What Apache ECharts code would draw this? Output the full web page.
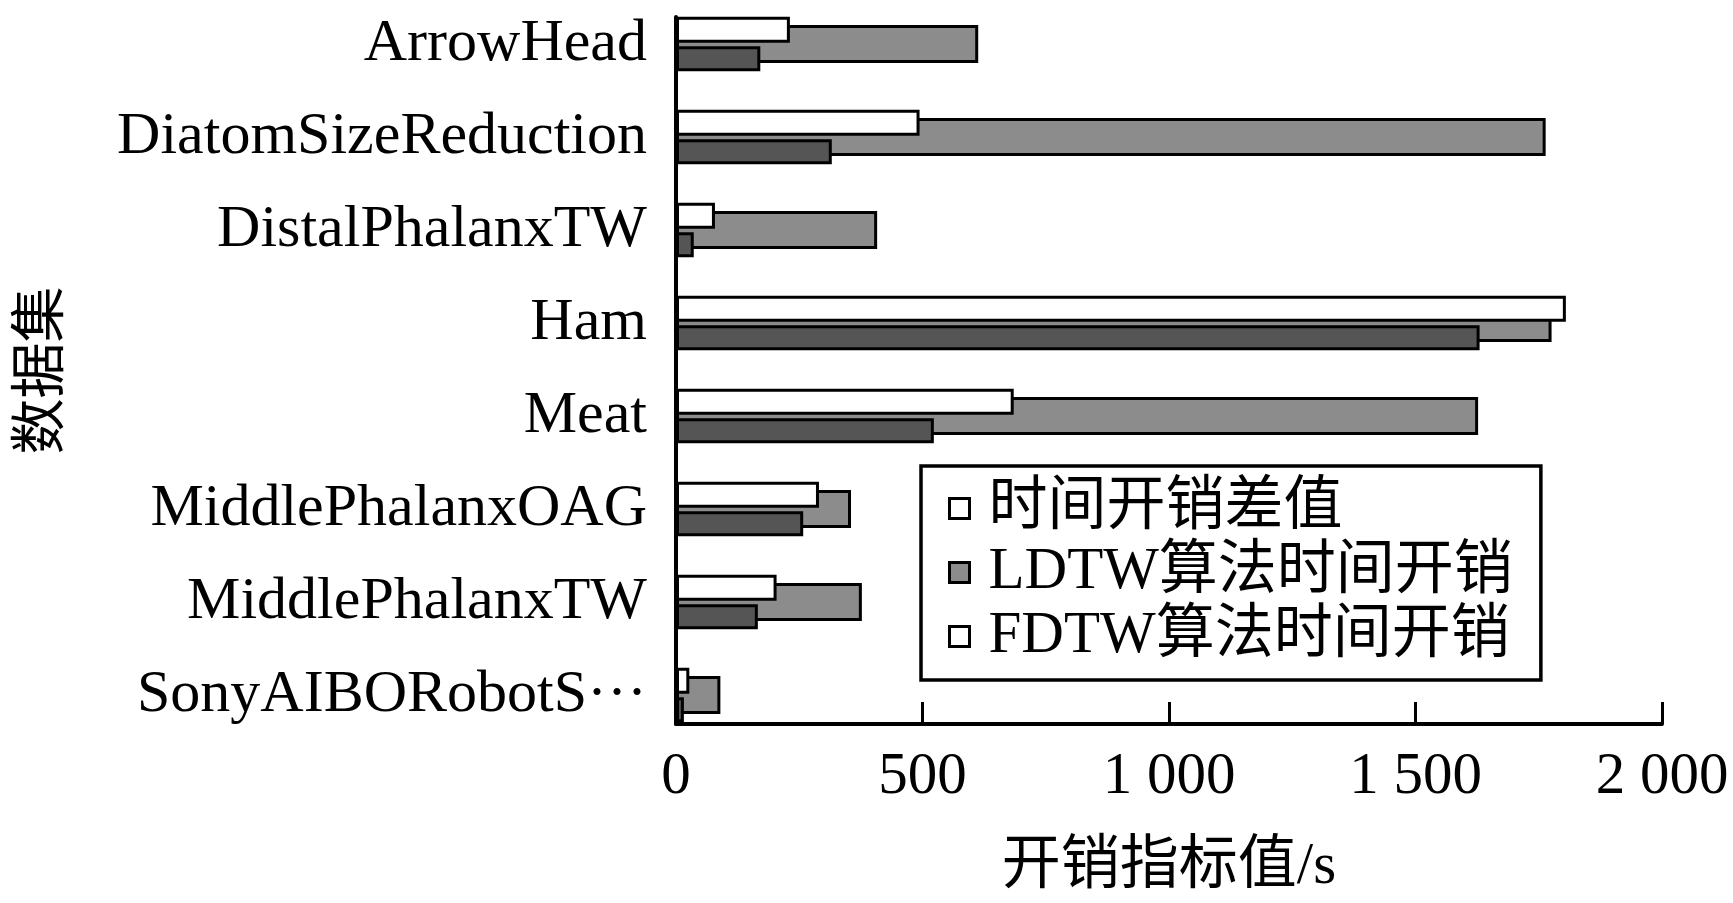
<!DOCTYPE html>
<html><head><meta charset="utf-8">
<script src="https://cdn.jsdelivr.net/npm/echarts@6/dist/echarts.min.js"></script>
<style>html,body{margin:0;padding:0;background:#fff}#c{width:1733px;height:903px}</style>
</head><body><div id="c"></div>
<script>
const categories = ['ArrowHead','DiatomSizeReduction','DistalPhalanxTW','Ham','Meat','MiddlePhalanxOAG','MiddlePhalanxTW','SonyAIBORobotS\u00B7\u00B7\u00B7'];
const seriesNames = ['时间开销差值','LDTW算法时间开销','FDTW算法时间开销'];
const diffValues = [231, 494, 79, 1805, 685, 290, 204, 27];
const ldtwValues = [613, 1764, 408, 1776, 1627, 355, 377, 90];
const fdtwValues = [171, 316, 36, 1630, 523, 258, 166, 16];
const xTickValues = [0, 500, 1000, 1500, 2000];
const xTickLabels = ['0', '500', '1 000', '1 500', '2 000'];

const FONT = "'Liberation Serif', 'Noto Sans CJK SC', serif";
const chart = echarts.init(document.getElementById('c'), null, {renderer: 'canvas'});
const L = 676, R = 71;
chart.setOption({
  animation: false,
  backgroundColor: '#fff',
  grid: [
    {left: L, right: R, top: -2.5, height: 744, containLabel: false, outerBoundsMode: 'none'},
    {left: L, right: R, top: 17, bottom: 179, containLabel: false, outerBoundsMode: 'none'}
  ],
  xAxis: [
    {gridIndex: 0, type: 'value', min: 0, max: 2000, show: false},
    {gridIndex: 1, type: 'value', min: 0, max: 2000, interval: 500,
     axisLine: {show: true, onZero: false, lineStyle: {color: '#000', width: 4}},
     axisTick: {show: true, inside: true, length: 22, lineStyle: {color: '#000', width: 3}},
     splitLine: {show: false},
     axisLabel: {margin: 24, fontSize: 59, fontFamily: FONT, color: '#000',
       formatter: v => { const i = xTickValues.indexOf(v); return i >= 0 ? xTickLabels[i] : ''; }},
     name: '开销指标值/s', nameLocation: 'middle', nameGap: 114,
     nameTextStyle: {fontSize: 59, fontFamily: FONT, color: '#000'}}
  ],
  yAxis: [
    {gridIndex: 0, type: 'category', data: categories, inverse: true,
     axisLine: {show: false}, axisTick: {show: false}, splitLine: {show: false},
     axisLabel: {margin: 29, fontSize: 60, fontFamily: FONT, color: '#000'}},
    {gridIndex: 0, type: 'category', data: categories, inverse: true, show: false},
    {gridIndex: 1, type: 'value', min: 0, max: 1,
     axisLine: {show: true, onZero: false, lineStyle: {color: '#000', width: 4}},
     axisTick: {show: false}, axisLabel: {show: false}, splitLine: {show: false},
     name: '数据集', nameLocation: 'middle', nameRotate: 90, nameGap: 605,
     nameTextStyle: {fontSize: 56, fontFamily: FONT, color: '#000'}}
  ],
  legend: {
    orient: 'vertical', left: 921, top: 466,
    padding: [13, 28, 14, 27],
    borderColor: '#000', borderWidth: 3.5, backgroundColor: '#fff',
    itemWidth: 20, itemHeight: 20, itemGap: 5,
    itemStyle: {borderColor: '#000', borderWidth: 3},
    textStyle: {fontSize: 59, fontFamily: FONT, color: '#000', padding: [0, 0, 0, 14]},
    data: [
      {name: seriesNames[0], icon: 'rect', itemStyle: {color: '#fff'}},
      {name: seriesNames[1], icon: 'rect', itemStyle: {color: '#8c8c8c'}},
      {name: seriesNames[2], icon: 'rect', itemStyle: {color: '#fff'}}
    ]
  },
  series: [
    {name: seriesNames[1], type: 'bar', xAxisIndex: 0, yAxisIndex: 1, data: ldtwValues,
     barWidth: 38, itemStyle: {color: '#8c8c8c', borderColor: '#000', borderWidth: 3}},
    {name: seriesNames[0], type: 'bar', xAxisIndex: 0, yAxisIndex: 0, data: diffValues,
     barWidth: 26, barGap: '13.5%', itemStyle: {color: '#fff', borderColor: '#000', borderWidth: 3}},
    {name: seriesNames[2], type: 'bar', xAxisIndex: 0, yAxisIndex: 0, data: fdtwValues,
     barWidth: 25, barGap: '13.5%', itemStyle: {color: '#555555', borderColor: '#000', borderWidth: 3}}
  ]
});
</script></body></html>
